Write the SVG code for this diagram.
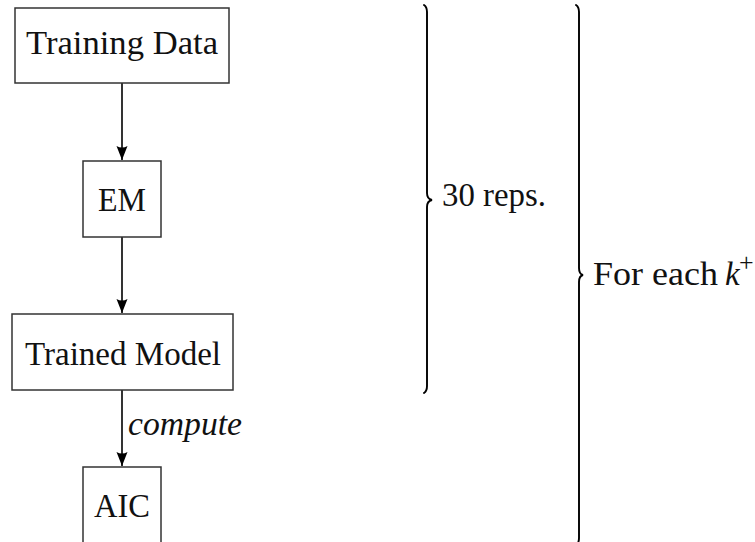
<svg xmlns="http://www.w3.org/2000/svg" width="755" height="542" viewBox="0 0 755 542">
  <style>
    .box { fill: #ffffff; stroke: #333333; stroke-width: 1.5; }
    .lbl { font-family: "Liberation Serif", "Times New Roman", serif; font-size: 33px; fill: #111111; }
    .edge { stroke: #000000; stroke-width: 1.6; fill: none; }
    .brace { stroke: #000000; stroke-width: 1.9; fill: none; stroke-linecap: round; }
  </style>
  <defs>
    <marker id="arrow" markerUnits="userSpaceOnUse" markerWidth="16" markerHeight="16" viewBox="0 0 16 16" refX="14" refY="8" orient="auto">
      <path d="M0,2.5 L14,8 L0,13.5 Q3,8 0,2.5 Z" fill="#000000"/>
    </marker>
  </defs>

  <rect width="755" height="542" fill="#ffffff"/>

  <g id="connectors">
    <line class="edge" x1="122" y1="83" x2="122" y2="160" marker-end="url(#arrow)"/>
    <line class="edge" x1="122" y1="237" x2="122" y2="313" marker-end="url(#arrow)"/>
    <line class="edge" x1="122" y1="390" x2="122" y2="466" marker-end="url(#arrow)"/>
    <text class="lbl" x="128" y="435" font-style="italic" textLength="114" lengthAdjust="spacingAndGlyphs">compute</text>
  </g>

  <g id="training-data">
    <rect class="box" x="15" y="8" width="214" height="75"/>
    <text class="lbl" x="26" y="54" textLength="192" lengthAdjust="spacingAndGlyphs">Training Data</text>
  </g>

  <g id="em">
    <rect class="box" x="83" y="161" width="78" height="76"/>
    <text class="lbl" x="98" y="211" textLength="48" lengthAdjust="spacingAndGlyphs">EM</text>
  </g>

  <g id="trained-model">
    <rect class="box" x="12" y="314" width="221" height="76"/>
    <text class="lbl" x="25" y="365" textLength="196" lengthAdjust="spacingAndGlyphs">Trained Model</text>
  </g>

  <g id="aic">
    <rect class="box" x="83" y="467" width="78" height="90"/>
    <text class="lbl" x="94" y="517" textLength="56" lengthAdjust="spacingAndGlyphs">AIC</text>
  </g>

  <g id="reps-brace">
    <path class="brace" d="M424,5 Q427,7 427,12 L427,193 Q427,199 432,200 Q427,201 427,207 L427,386 Q427,391 424,393"/>
    <text class="lbl" x="442" y="206" textLength="104" lengthAdjust="spacingAndGlyphs">30 reps.</text>
  </g>

  <g id="k-brace">
    <path class="brace" d="M576,5 Q579,7 579,12 L579,268 Q579,274 583,275 Q579,276 579,282 L579,538 Q579,543 576,546"/>
    <text class="lbl" x="593" y="285"><tspan textLength="125" lengthAdjust="spacingAndGlyphs">For each</tspan><tspan x="725" font-style="italic">k</tspan><tspan x="739" y="271" font-size="26px">+</tspan></text>
  </g>
</svg>
